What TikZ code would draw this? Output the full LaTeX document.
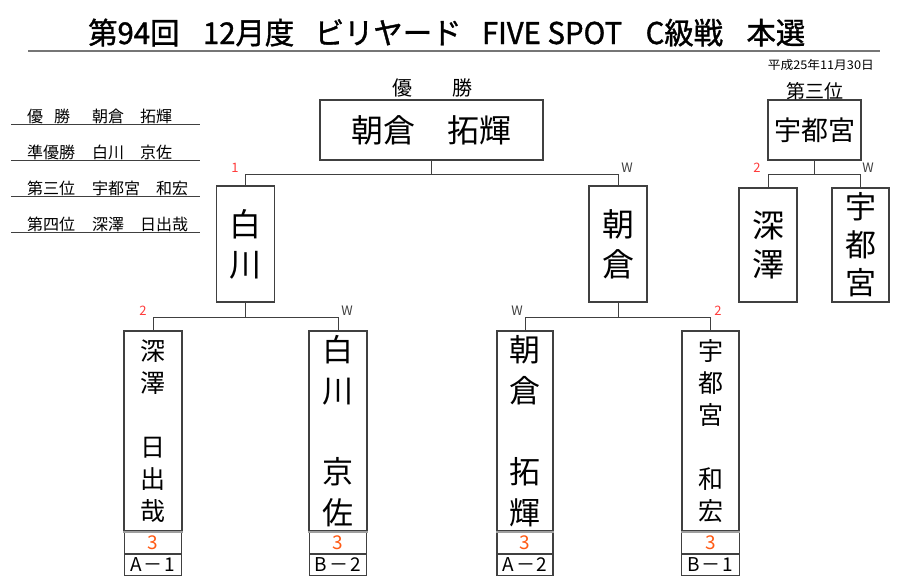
\documentclass[tikz,border=0pt]{standalone}
\usepackage{fontspec}
\setmainfont{Noto Sans CJK JP}
\newfontfamily\titlefont{Noto Sans CJK JP}[FakeBold=1.2]
\usetikzlibrary{positioning}
\definecolor{linegray}{HTML}{404040}
\definecolor{rulegray}{HTML}{767676}
\definecolor{lossred}{HTML}{FF3B3B}
\definecolor{scoreorange}{HTML}{FF5A14}
\tikzset{
  frame/.style={draw=linegray, line width=1.1pt, inner sep=0pt},
  bracket/.style={draw=linegray, line width=1pt},
  lossmark/.style={text=lossred, font=\fontsize{13pt}{13pt}\selectfont, inner sep=0pt},
  winmark/.style={text=linegray, font=\fontsize{13pt}{13pt}\selectfont, inner sep=0pt},
  listtext/.style={anchor=base west, inner sep=0pt, font=\fontsize{16pt}{16pt}\selectfont},
  scorebox/.style={frame, minimum width=57.5pt, minimum height=21pt, text=scoreorange, font=\fontsize{19pt}{19pt}\selectfont},
  tagbox/.style={frame, minimum width=57.5pt, minimum height=21pt, font=\fontsize{19pt}{19pt}\selectfont}
}
\begin{document}
\begin{tikzpicture}[x=1pt,y=-1pt]
\useasboundingbox (0,0) rectangle (900,587);

% title and date
\node[anchor=base west, inner sep=0pt] (title) at (88,44) {\resizebox{717pt}{\height}{\titlefont\fontsize{30pt}{30pt}\selectfont 第94回\hspace{0.8em}12月度\hspace{0.7em}ビリヤード\hspace{0.7em}FIVE SPOT\hspace{0.8em}C級戦\hspace{0.8em}本選}};
\draw[rulegray, line width=2.5pt] (28,51) -- (880,51);
\node[anchor=base east, inner sep=0pt] (date) at (874,69) {\resizebox{106pt}{\height}{\fontsize{12pt}{12pt}\selectfont 平成25年11月30日}};

% result list
\node[listtext] (rank1) at (27,122) {優\hspace{11pt}勝};
\node[listtext] (name1) at (92,122) {朝倉　拓輝};
\draw[linegray, line width=1pt] (11,124) -- (200,124);
\node[listtext] (rank2) at (27,158) {準優勝};
\node[listtext] (name2) at (92,158) {白川　京佐};
\draw[linegray, line width=1pt] (11,160) -- (200,160);
\node[listtext] (rank3) at (27,194) {第三位};
\node[listtext] (name3) at (92,194) {宇都宮　和宏};
\draw[linegray, line width=1pt] (11,196) -- (200,196);
\node[listtext] (rank4) at (27,230) {第四位};
\node[listtext] (name4) at (92,230) {深澤　日出哉};
\draw[linegray, line width=1pt] (11,232) -- (200,232);

% final
\node[frame, minimum width=223pt, minimum height=60pt, font=\fontsize{32pt}{32pt}\selectfont] (champ) at (431.5,130) {朝倉　拓輝};
\node[inner sep=0pt, font=\fontsize{20pt}{20pt}\selectfont] (champtitle) at (432,88) {優　　勝};
\node[frame, minimum width=58pt, minimum height=116pt, align=center, font=\fontsize{32pt}{40pt}\selectfont] (semiL) at (245.5,244) {白\\川};
\node[frame, minimum width=58pt, minimum height=116pt, align=center, font=\fontsize{32pt}{40pt}\selectfont] (semiR) at (618,244) {朝\\倉};
\coordinate (champfork) at ([yshift=-14pt]champ.south);
\draw[bracket] (champ.south) -- (champfork);
\draw[bracket] (semiL.north) |- (champfork) -| (semiR.north);
\node[lossmark] (markS1) at ([shift={(-10.5pt,18pt)}]semiL.north) {1};
\node[winmark] (markS2) at ([shift={(9pt,18pt)}]semiR.north) {W};

% third place
\node[frame, minimum width=93pt, minimum height=60pt, font=\fontsize{27pt}{27pt}\selectfont] (third) at (814.5,130) {宇都宮};
\node[inner sep=0pt, font=\fontsize{19pt}{19pt}\selectfont] (thirdtitle) at (815,91) {第三位};
\node[frame, minimum width=58pt, minimum height=114pt, align=center, font=\fontsize{32pt}{39pt}\selectfont] (thirdL) at (768,245) {深\\澤};
\node[frame, minimum width=57pt, minimum height=114pt, align=center, font=\fontsize{31pt}{38pt}\selectfont] (thirdR) at (860.5,245) {宇\\都\\宮};
\coordinate (thirdfork) at ([yshift=-14pt]third.south);
\draw[bracket] (third.south) -- (thirdfork);
\draw[bracket] (thirdL.north) |- (thirdfork) -| (thirdR.north);
\node[lossmark] (markT1) at ([shift={(-11pt,20pt)}]thirdL.north) {2};
\node[winmark] (markT2) at ([shift={(7.5pt,20pt)}]thirdR.north) {W};

% first round
\node[frame, minimum width=58pt, minimum height=200pt, align=center, font=\fontsize{25pt}{32pt}\selectfont] (nameA1) at (153,431) {深\\澤\\~\\日\\出\\哉};
\node[scorebox, below=0pt of nameA1] (scoreA1) {3};
\node[tagbox, below=0pt of scoreA1] (tagA1) {A\hspace{2pt}－\hspace{2pt}1};
\node[frame, minimum width=58pt, minimum height=200pt, align=center, font=\fontsize{31pt}{40.6pt}\selectfont] (nameB2) at (338,431) {白\\川\\~\\京\\佐};
\node[scorebox, below=0pt of nameB2] (scoreB2) {3};
\node[tagbox, below=0pt of scoreB2] (tagB2) {B\hspace{2pt}－\hspace{2pt}2};
\node[frame, minimum width=56pt, minimum height=200pt, align=center, font=\fontsize{31pt}{40.6pt}\selectfont] (nameA2) at (525,431) {朝\\倉\\~\\拓\\輝};
\node[scorebox, minimum width=56pt, below=0pt of nameA2] (scoreA2) {3};
\node[tagbox, minimum width=56pt, below=0pt of scoreA2] (tagA2) {A\hspace{2pt}－\hspace{2pt}2};
\node[frame, minimum width=57pt, minimum height=200pt, align=center, font=\fontsize{25pt}{32pt}\selectfont] (nameB1) at (710.5,431) {宇\\都\\宮\\~\\和\\宏};
\node[scorebox, below=0pt of nameB1] (scoreB1) {3};
\node[tagbox, below=0pt of scoreB1] (tagB1) {B\hspace{2pt}－\hspace{2pt}1};
\draw[rulegray!70, line width=2pt] (nameA1.south west) -- (nameA1.south east);
\draw[rulegray!70, line width=2pt] (nameB2.south west) -- (nameB2.south east);
\draw[rulegray!70, line width=2pt] (nameA2.south west) -- (nameA2.south east);
\draw[rulegray!70, line width=2pt] (nameB1.south west) -- (nameB1.south east);

\coordinate (forkL) at ([yshift=-15pt]semiL.south);
\draw[bracket] (semiL.south) -- (forkL);
\draw[bracket] (nameA1.north) |- (forkL) -| (nameB2.north);
\node[lossmark] (markA1) at ([shift={(-10pt,20pt)}]nameA1.north) {2};
\node[winmark] (markB2) at ([shift={(9pt,20pt)}]nameB2.north) {W};
\coordinate (forkR) at ([yshift=-15pt]semiR.south);
\draw[bracket] (semiR.south) -- (forkR);
\draw[bracket] (nameA2.north) |- (forkR) -| (nameB1.north);
\node[winmark] (markA2) at ([shift={(-8pt,20pt)}]nameA2.north) {W};
\node[lossmark] (markB1) at ([shift={(7.5pt,20pt)}]nameB1.north) {2};

\end{tikzpicture}
\end{document}
